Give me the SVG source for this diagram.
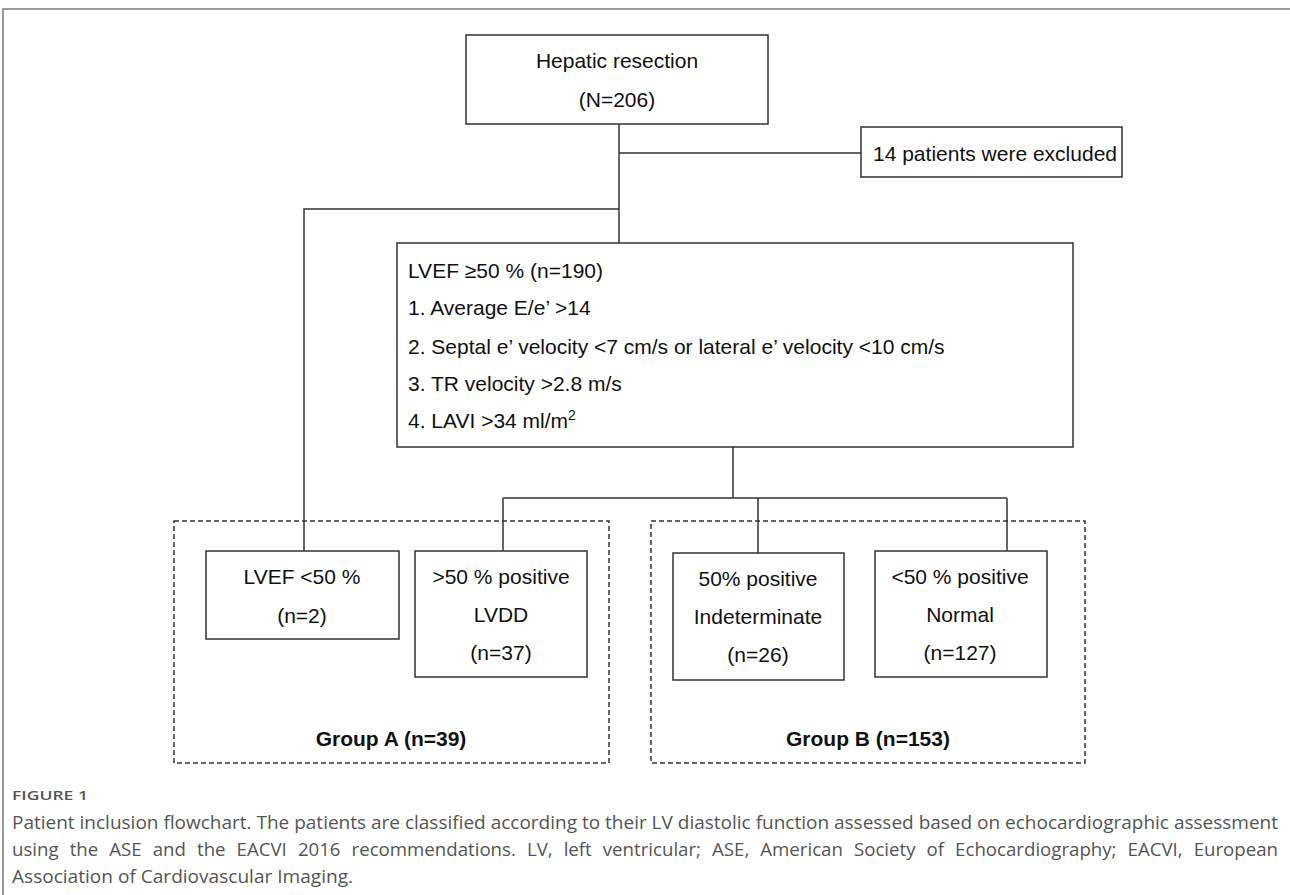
<svg xmlns="http://www.w3.org/2000/svg" width="1290" height="895" viewBox="0 0 1290 895">
<style>
.frame{fill:none;stroke:#7a7a7a;stroke-width:1.5}
.box rect{fill:#fff;stroke:#333;stroke-width:1.5}
.grp rect{fill:none;stroke:#333;stroke-width:1.5;stroke-dasharray:5 3}
.t{font-family:"Liberation Sans",Arial,sans-serif;font-size:21px;fill:#111}
.c{text-anchor:middle}
.b{font-weight:bold}
.conn path{fill:none;stroke:#333;stroke-width:1.5}
.cap{font-family:"Open Sans","Liberation Sans",sans-serif;fill:#555}
</style>
<rect width="1290" height="895" fill="#fff"/>
<path class="frame" d="M1290 9H3V895"/>
<g id="groupA" class="grp">
<rect x="174" y="521" width="435" height="242"/>
<text class="t c b" x="391" y="746">Group A (n=39)</text>
</g>
<g id="groupB" class="grp">
<rect x="651" y="521" width="434" height="242"/>
<text class="t c b" x="868" y="746">Group B (n=153)</text>
</g>
<g id="connectors" class="conn">
<path d="M619 124V243"/>
<path d="M619 153H861"/>
<path d="M619 209H304V551"/>
<path d="M733 447V498"/>
<path d="M503 498H1007"/>
<path d="M503 498V551"/>
<path d="M758 498V553"/>
<path d="M1007 498V551"/>
</g>
<g id="hepatic" class="box">
<rect x="466" y="35" width="302" height="89"/>
<text class="t c" x="617" y="68">Hepatic resection</text>
<text class="t c" x="617" y="107">(N=206)</text>
</g>
<g id="excluded" class="box">
<rect x="861" y="127" width="261" height="50"/>
<text class="t" x="873" y="161">14 patients were excluded</text>
</g>
<g id="criteria" class="box">
<rect x="397" y="243" width="676" height="204"/>
<text class="t" x="408" y="278">LVEF ≥50 % (n=190)</text>
<text class="t" x="408" y="315">1. Average E/e’ &gt;14</text>
<text class="t" x="408" y="354">2. Septal e’ velocity &lt;7 cm/s or lateral e’ velocity &lt;10 cm/s</text>
<text class="t" x="408" y="391">3. TR velocity &gt;2.8 m/s</text>
<text class="t" x="408" y="428">4. LAVI &gt;34 ml/m<tspan font-size="14" dy="-8">2</tspan></text>
</g>
<g id="lvef" class="box">
<rect x="206" y="551" width="193" height="88"/>
<text class="t c" x="302" y="584">LVEF &lt;50 %</text>
<text class="t c" x="302" y="623">(n=2)</text>
</g>
<g id="lvdd" class="box">
<rect x="415" y="551" width="172" height="126"/>
<text class="t c" x="501" y="584">&gt;50 % positive</text>
<text class="t c" x="501" y="622">LVDD</text>
<text class="t c" x="501" y="660">(n=37)</text>
</g>
<g id="indeterminate" class="box">
<rect x="673" y="553" width="171" height="127"/>
<text class="t c" x="758" y="586">50% positive</text>
<text class="t c" x="758" y="624">Indeterminate</text>
<text class="t c" x="758" y="662">(n=26)</text>
</g>
<g id="normal" class="box">
<rect x="875" y="551" width="172" height="126"/>
<text class="t c" x="960" y="584">&lt;50 % positive</text>
<text class="t c" x="960" y="622">Normal</text>
<text class="t c" x="960" y="660">(n=127)</text>
</g>
<g id="caption">
<text class="cap" x="12" y="800" font-size="13" font-weight="600" textLength="76" lengthAdjust="spacingAndGlyphs">FIGURE 1</text>
<text class="cap" x="12" y="829" font-size="18" textLength="1266" lengthAdjust="spacingAndGlyphs">Patient inclusion flowchart. The patients are classified according to their LV diastolic function assessed based on echocardiographic assessment</text>
<text class="cap" x="12" y="856" font-size="18" textLength="1266" lengthAdjust="spacingAndGlyphs" word-spacing="6">using the ASE and the EACVI 2016 recommendations. LV, left ventricular; ASE, American Society of Echocardiography; EACVI, European</text>
<text class="cap" x="12" y="883" font-size="18" textLength="341" lengthAdjust="spacingAndGlyphs">Association of Cardiovascular Imaging.</text>
</g>
</svg>
